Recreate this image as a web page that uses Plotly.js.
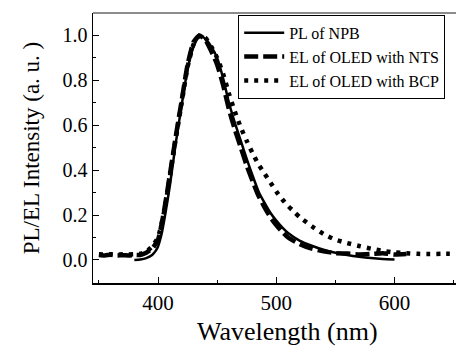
<!DOCTYPE html>
<html>
<head>
<meta charset="utf-8">
<script src="https://cdn.plot.ly/plotly-3.0.1.min.js"></script>
<style>html,body{margin:0;padding:0;background:#fff;}#chart{width:456px;height:347px;}</style>
</head>
<body>
<div id="chart"></div>
<script>
// PL of NPB (solid)
const plWavelength = [380,385,390,395,398,400,403,406,410,415,420,425,430,435,440,445,450,455,460,465,470,475,480,485,490,495,500,505,510,520,530,540,550,560,570,580,590,600];
const plIntensity  = [0.0,0.002,0.008,0.022,0.04,0.06,0.115,0.2,0.33,0.52,0.69,0.85,0.95,1.0,0.985,0.95,0.90,0.81,0.70,0.61,0.53,0.45,0.375,0.305,0.255,0.21,0.175,0.145,0.12,0.085,0.063,0.045,0.032,0.022,0.014,0.008,0.004,0.002];

// EL of OLED with NTS (dashed)
const ntsWavelength = [350,355,360,365,370,375,380,385,390,395,400,405,410,415,420,425,430,435,440,445,450,455,460,465,470,475,480,485,490,495,500,505,510,520,530,540,550,560,570,580,590,600,610];
const ntsIntensity  = [0.022,0.02,0.023,0.02,0.021,0.02,0.022,0.022,0.032,0.05,0.09,0.215,0.38,0.55,0.71,0.87,0.97,1.0,0.98,0.93,0.87,0.78,0.67,0.58,0.50,0.42,0.35,0.285,0.235,0.19,0.155,0.125,0.10,0.07,0.05,0.038,0.03,0.028,0.024,0.026,0.03,0.024,0.026];

// EL of OLED with BCP (dotted)
const bcpWavelength = [350,355,360,365,370,375,380,385,390,395,400,405,410,415,420,425,430,435,440,445,450,455,460,465,470,475,480,485,490,495,500,505,510,515,520,530,540,550,560,570,580,590,600,610,620,630,640,650];
const bcpIntensity  = [0.025,0.024,0.025,0.024,0.025,0.024,0.025,0.027,0.036,0.06,0.10,0.21,0.37,0.54,0.70,0.86,0.96,1.0,0.99,0.95,0.90,0.83,0.74,0.66,0.59,0.53,0.475,0.425,0.385,0.345,0.305,0.27,0.24,0.215,0.19,0.15,0.115,0.09,0.075,0.062,0.05,0.04,0.033,0.03,0.027,0.026,0.027,0.027];

const seriesNames = ['PL of NPB', 'EL of OLED with NTS', 'EL of OLED with BCP'];
const xTickVals = [400, 500, 600];
const yTickVals = [0.0, 0.2, 0.4, 0.6, 0.8, 1.0];
const yTickText = ['0.0', '0.2', '0.4', '0.6', '0.8', '1.0'];

const FONT = 'Liberation Serif, Times New Roman, serif';

const traces = [
  {x: plWavelength, y: plIntensity, name: seriesNames[0], mode: 'lines',
   line: {color: '#000', width: 2.5, shape: 'spline', smoothing: 0.5}},
  {x: ntsWavelength, y: ntsIntensity, name: seriesNames[1], mode: 'lines',
   line: {color: '#000', width: 4.5, dash: '14px,5px', shape: 'spline', smoothing: 0.5}},
  {x: bcpWavelength, y: bcpIntensity, name: seriesNames[2], mode: 'lines',
   line: {color: '#000', width: 4.5, dash: '4px,6px', shape: 'spline', smoothing: 0.5}}
];

const layout = {
  width: 456, height: 347,
  margin: {l: 93, r: 0, t: 13, b: 64},
  paper_bgcolor: '#fff', plot_bgcolor: '#fff',
  showlegend: true,
  legend: {x: 0.40, y: 0.993, xanchor: 'left', yanchor: 'top',
           bordercolor: '#000', borderwidth: 1, bgcolor: '#fff',
           font: {family: FONT, size: 16, color: '#000'},
           itemwidth: 40, tracegroupgap: 0},
  xaxis: {
    range: [345, 652], tickvals: xTickVals, ticktext: xTickVals.map(String),
    ticks: 'inside', ticklen: 6, tickwidth: 1, tickcolor: '#000',
    minor: {dtick: 50, tick0: 0, ticks: 'inside', ticklen: 3, tickcolor: '#000'},
    showline: true, linecolor: '#000', linewidth: 1.5, mirror: false,
    showgrid: false, zeroline: false,
    tickfont: {family: FONT, size: 21, color: '#000'}
  },
  yaxis: {
    range: [-0.103, 1.1], tickvals: yTickVals, ticktext: yTickText,
    ticks: 'inside', ticklen: 6, tickwidth: 1, tickcolor: '#000',
    minor: {dtick: 0.1, tick0: 0, ticks: 'inside', ticklen: 3, tickcolor: '#000'},
    showline: true, linecolor: '#000', linewidth: 1.5,
    showgrid: false, zeroline: false,
    tickfont: {family: FONT, size: 20, color: '#000'},
    title: {text: 'PL/EL Intensity (a. u. )', font: {family: FONT, size: 23, color: '#000'}, standoff: 16}
  },
  shapes: [
    {type: 'line', xref: 'paper', yref: 'paper', x0: 0, x1: 1, y0: 1, y1: 1,
     line: {color: '#666', width: 1.5}}
  ],
  annotations: [
    {text: 'Wavelength (nm)', xref: 'paper', yref: 'paper', x: 0.537, y: 0,
     xanchor: 'center', yanchor: 'top', yshift: -32, showarrow: false,
     font: {family: FONT, size: 26, color: '#000'}}
  ]
};

Plotly.newPlot('chart', traces, layout, {displayModeBar: false, staticPlot: true});
</script>
</body>
</html>
